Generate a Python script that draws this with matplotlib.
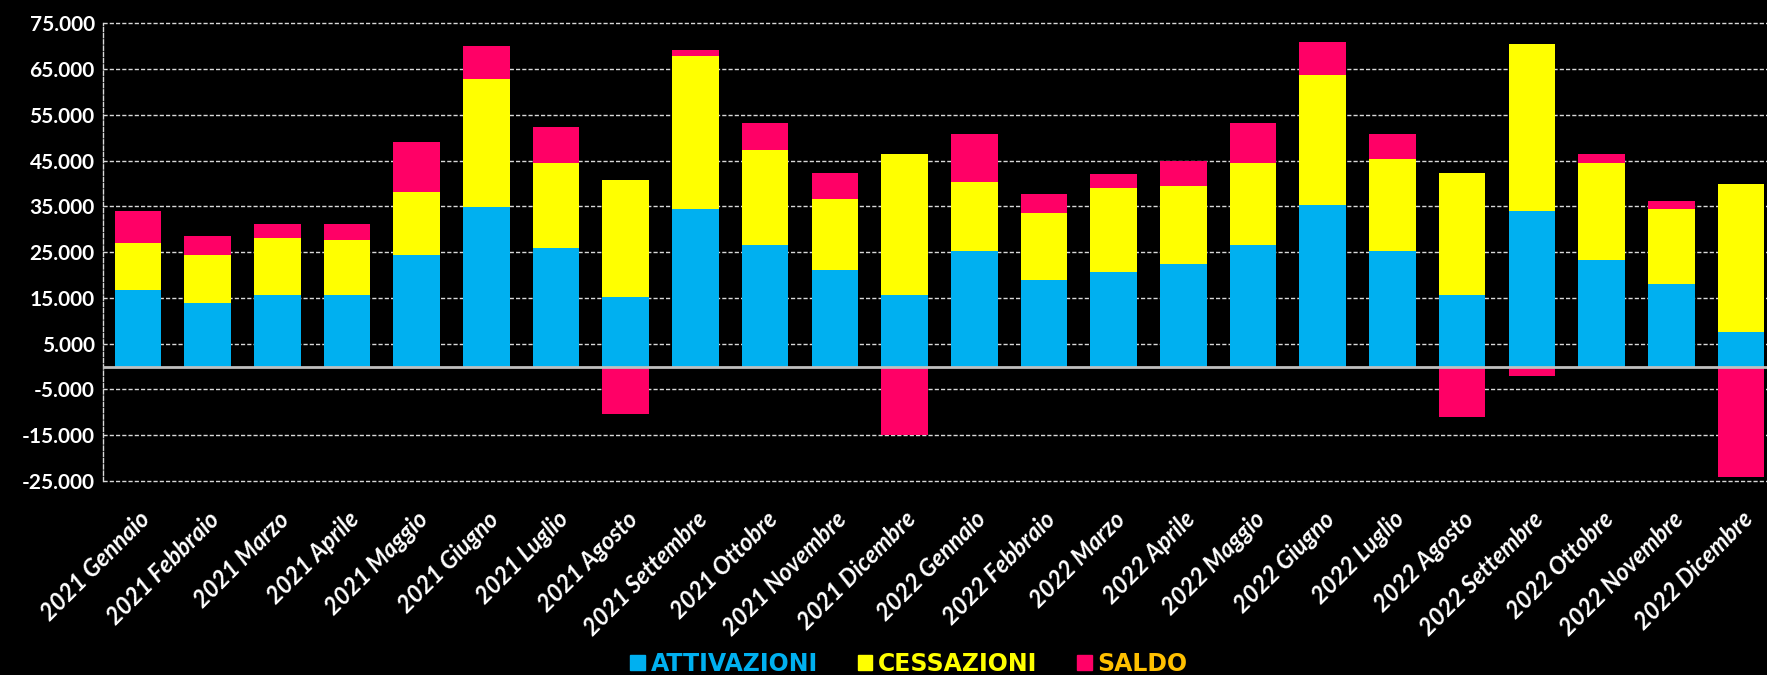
import numpy as np
import matplotlib
matplotlib.use("Agg")
import matplotlib.pyplot as plt
from matplotlib.patches import Patch
from matplotlib.ticker import FuncFormatter

# monthly labour flows, 2021-2022
months = ["2021 Gennaio", "2021 Febbraio", "2021 Marzo", "2021 Aprile", "2021 Maggio",
          "2021 Giugno", "2021 Luglio", "2021 Agosto", "2021 Settembre", "2021 Ottobre",
          "2021 Novembre", "2021 Dicembre", "2022 Gennaio", "2022 Febbraio", "2022 Marzo",
          "2022 Aprile", "2022 Maggio", "2022 Giugno", "2022 Luglio", "2022 Agosto",
          "2022 Settembre", "2022 Ottobre", "2022 Novembre", "2022 Dicembre"]
attivazioni = [16800, 13900, 15600, 15600, 24400, 34800, 26000, 15100, 34400, 26500,
               21000, 15600, 25200, 18900, 20600, 22400, 26500, 35300, 25200, 15600,
               34000, 23200, 18100, 7600]
cessazioni = [10100, 10500, 12600, 12100, 13800, 28100, 18400, 25600, 33500, 20900,
              15600, 30900, 15100, 14700, 18400, 17000, 17900, 28400, 20100, 26800,
              36400, 21200, 16300, 32200]
saldo = [7000, 4200, 2900, 3400, 10800, 7100, 8000, -10300, 1200, 5800,
         5800, -15000, 10500, 4200, 3000, 5500, 8800, 7200, 5500, -11100,
         -2000, 2100, 1700, -24100]
y_ticks = list(range(-25000, 75001, 10000))

BLUE = "#00B0F0"
YELLOW = "#FFFF00"
PINK = "#FF0066"
ORANGE = "#FFC000"

att = np.array(attivazioni)
ces = np.array(cessazioni)
sal = np.array(saldo)
x = np.arange(len(months))

fig = plt.figure(figsize=(17.67, 6.75), dpi=100, facecolor="black")
ax = fig.add_axes([103 / 1767, 1 - 481 / 675, 1 - 103 / 1767, (481 - 23.3) / 675])
ax.set_facecolor("black")

for yt in y_ticks:
    ax.axhline(yt, color="#D9D9D9", lw=1.0, ls=(0, (3, 1.5)), zorder=0, clip_on=False)

w = 0.67
ax.bar(x, att, w, color=BLUE, zorder=2)
ax.bar(x, ces, w, bottom=att, color=YELLOW, zorder=2)
ax.bar(x, sal, w, bottom=np.where(sal > 0, att + ces, 0), color=PINK, zorder=2)
ax.axhline(0, color="#BFBFBF", lw=2, zorder=3)

ax.set_xlim(-0.5, (1767 - 103) / 69.7 - 0.5)
ax.set_ylim(-25000, 75000)
ax.set_yticks(y_ticks)
ax.yaxis.set_major_formatter(FuncFormatter(lambda v, p: f"{int(v):,}".replace(",", ".")))
ax.set_xticks(x)
ax.set_xticklabels(months, rotation=45, ha="right", rotation_mode="anchor")
ax.tick_params(axis="both", length=0, colors="white")
ax.tick_params(axis="x", pad=19, labelsize=17)
ax.tick_params(axis="y", pad=6, labelsize=15)
for lab in ax.get_xticklabels():
    lab.set_family(["Lato", "DejaVu Sans"])
    lab.set_fontweight("bold")
    lab.set_fontstyle("italic")
for lab in ax.get_yticklabels():
    lab.set_family(["Lato", "DejaVu Sans"])
    lab.set_fontweight("bold")

for side in ["top", "right", "bottom"]:
    ax.spines[side].set_visible(False)
ax.spines["left"].set_color("#D9D9D9")
ax.spines["left"].set_linestyle((0, (3, 1.5)))
ax.spines["left"].set_linewidth(1.0)

handles = [Patch(color=BLUE), Patch(color=YELLOW), Patch(color=PINK)]
leg = fig.legend(handles, ["ATTIVAZIONI", "CESSAZIONI", "SALDO"],
                 loc="center", bbox_to_anchor=(909 / 1767, 1 - 664 / 675), ncol=3,
                 frameon=False, handlelength=0.6, handleheight=0.6, handletextpad=0.25,
                 columnspacing=1.7, labelcolor=[BLUE, YELLOW, ORANGE],
                 prop={"family": ["Liberation Sans Narrow", "DejaVu Sans"],
                       "weight": "bold", "size": 17})

fig.savefig("out.png", dpi=100, facecolor="black")
